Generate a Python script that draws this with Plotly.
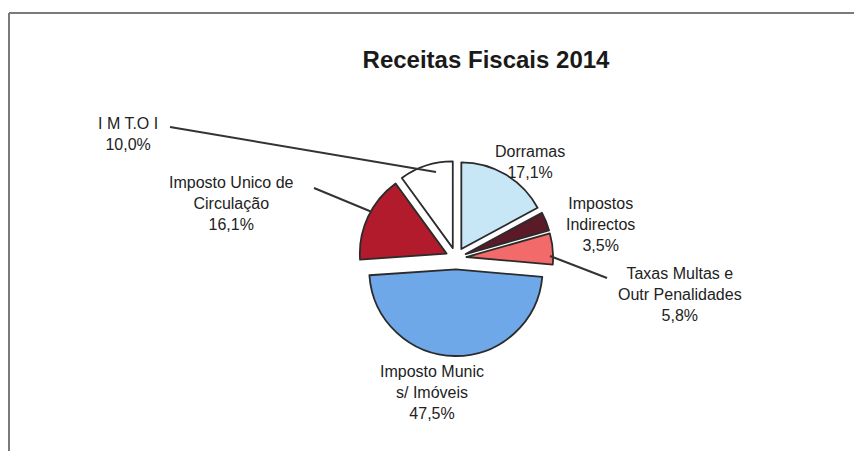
import plotly.graph_objects as go

# ── Data ──────────────────────────────────────────────────────────────────────
labels = [
    "Dorramas",
    "Impostos Indirectos",
    "Taxas Multas e Outr Penalidades",
    "Imposto Munic s/ Imóveis",
    "Imposto Unico de Circulação",
    "I M T.O I",
]
values = [17.1, 3.5, 5.8, 47.5, 16.1, 10.0]
label_texts = [
    "Dorramas<br>17,1%",
    "Impostos<br>Indirectos<br>3,5%",
    "Taxas Multas e<br>Outr Penalidades<br>5,8%",
    "Imposto Munic<br>s/ Imóveis<br>47,5%",
    "Imposto Unico de<br>Circulação<br>16,1%",
    "I M T.O I<br>10,0%",
]
slice_colors = ["#c7e6f6", "#5a1a28", "#f26a6a", "#6ea8e8", "#b11b2b", "#ffffff"]
pulls = [0.12, 0.12, 0.12, 0.13, 0.12, 0.12]

# the page body adds an 8px margin, so the figure is shrunk to fit the window
PAGE_W, PAGE_H, BODY = 862, 459, 8
W, H = PAGE_W - 2 * BODY, PAGE_H - 2 * BODY
_FONT = dict(family="Liberation Sans, Arial, sans-serif", color="#222222", size=16)


def px(x, y):
    """window pixel position -> paper coordinates (margins are zero)"""
    return (x - BODY) / W, 1 - (y - BODY) / H


# label anchor (window pixel centre) per slice
label_pos = [(530, 162), (600, 224), (680, 294), (432, 392), (231, 203), (128, 134)]
# leader lines: (x0, y0, x1, y1) in window pixels
leaders = [
    (170, 127, 436, 172),
    (314, 188, 372, 212),
    (550, 256, 607, 278),
]

# pie placement in window pixels: centre and full diameter incl. pull
PIE_CX, PIE_CY, PIE_D = 456, 258, 196
cx, cy = px(PIE_CX, PIE_CY)
dx, dy = PIE_D / 2 / W, PIE_D / 2 / H

fig = go.Figure()
fig.add_trace(go.Pie(
    labels=labels,
    values=values,
    sort=False,
    direction="clockwise",
    rotation=0,
    pull=pulls,
    textinfo="none",
    hoverinfo="label+percent",
    marker=dict(colors=slice_colors, line=dict(color="#2b2b2b", width=1.8)),
    domain=dict(x=[cx - dx, cx + dx], y=[cy - dy, cy + dy]),
    showlegend=False,
))

annotations = []
for txt, (lx, ly) in zip(label_texts, label_pos):
    ax_, ay_ = px(lx, ly)
    annotations.append(dict(
        x=ax_, y=ay_, xref="paper", yref="paper", text=txt, showarrow=False,
        xanchor="center", yanchor="middle", align="center", font=_FONT,
    ))

shapes = []
for x0, y0, x1, y1 in leaders:
    a, b = px(x0, y0)
    c, d = px(x1, y1)
    shapes.append(dict(type="line", xref="paper", yref="paper", x0=a, y0=b, x1=c, y1=d,
                       line=dict(color="#333333", width=2)))

# frame of the scanned chart area: top and left edges only
fx0, fy0 = px(9, 13)
shapes.append(dict(type="line", xref="paper", yref="paper", x0=fx0, y0=fy0, x1=1, y1=fy0,
                   line=dict(color="#7a7a7a", width=2)))
shapes.append(dict(type="line", xref="paper", yref="paper", x0=fx0, y0=fy0, x1=fx0, y1=0,
                   line=dict(color="#7a7a7a", width=2)))

tx, ty = px(486, 60)
fig.update_layout(
    width=W,
    height=H,
    paper_bgcolor="white",
    plot_bgcolor="white",
    margin=dict(l=0, r=0, t=0, b=0),
    title=dict(
        text="<b>Receitas Fiscais 2014</b>",
        x=tx, xanchor="center",
        y=ty, yanchor="middle",
        font=dict(family="Liberation Sans, Arial, sans-serif", size=24, color="#1a1a1a"),
    ),
    annotations=annotations,
    shapes=shapes,
)

fig.write_html("out.html")
